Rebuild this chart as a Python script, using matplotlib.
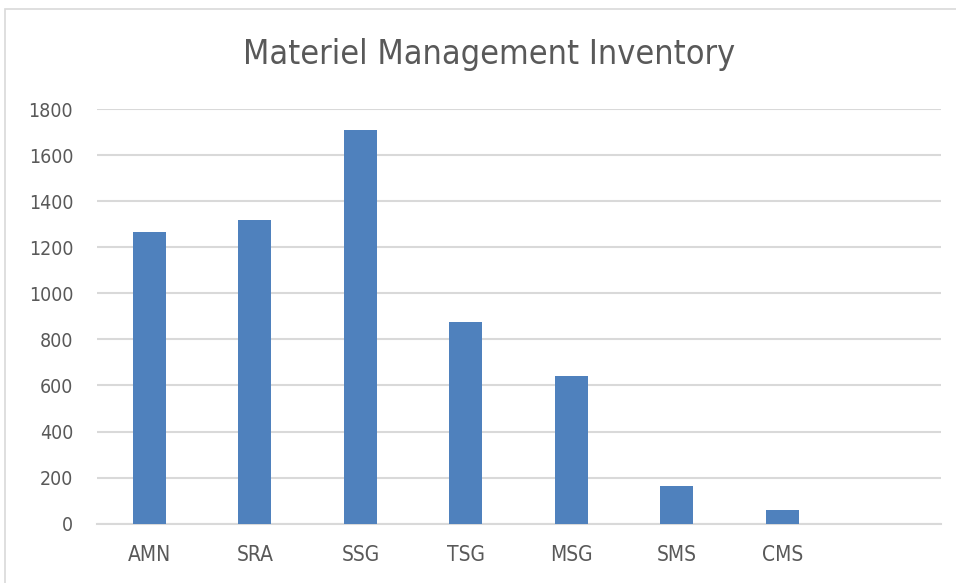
import matplotlib
matplotlib.use("Agg")
import matplotlib.pyplot as plt
from matplotlib.patches import Rectangle

plt.rcParams['font.family'] = ['DejaVu Sans']
plt.rcParams['font.stretch'] = 'condensed'

# Data
categories = ["AMN", "SRA", "SSG", "TSG", "MSG", "SMS", "CMS", ""]
values = [1266, 1318, 1708, 875, 641, 164, 59, 0]
yticks = [0, 200, 400, 600, 800, 1000, 1200, 1400, 1600, 1800]

text_color = "#595959"
grid_color = "#d9d9d9"
bar_color = "#4f81bd"

fig = plt.figure(figsize=(9.56, 5.83), dpi=100)
ax = fig.add_axes([0.1012, 0.1017, 0.8828, 0.7113])

x = list(range(len(categories)))
ax.bar(x[:7], values[:7], width=0.313, color=bar_color, zorder=3)

ax.set_xlim(-0.5, len(categories) - 0.5)
ax.set_ylim(0, 1800)
ax.set_yticks(yticks)
ax.set_xticks(x)
ax.set_xticklabels(categories)

ax.yaxis.grid(True, color=grid_color, linewidth=1.5, zorder=0)
ax.set_axisbelow(True)
for s in ["top", "right", "left"]:
    ax.spines[s].set_visible(False)
ax.spines["bottom"].set_color(grid_color)
ax.spines["bottom"].set_linewidth(1.5)
ax.tick_params(axis="both", length=0, labelcolor=text_color)
ax.tick_params(axis="y", pad=17, labelsize=14)
ax.tick_params(axis="x", pad=15, labelsize=15)

fig.text(0.5115, 0.906, "Materiel Management Inventory", ha="center", va="center",
         fontsize=24.5, color=text_color)

# chart border
fig.patches.append(Rectangle((5 / 956, -0.05), 1.1, 1 - 9 / 583 + 0.05,
                             transform=fig.transFigure, fill=False,
                             edgecolor="#d9d9d9", linewidth=1.2))

fig.savefig("out.png", dpi=100)
